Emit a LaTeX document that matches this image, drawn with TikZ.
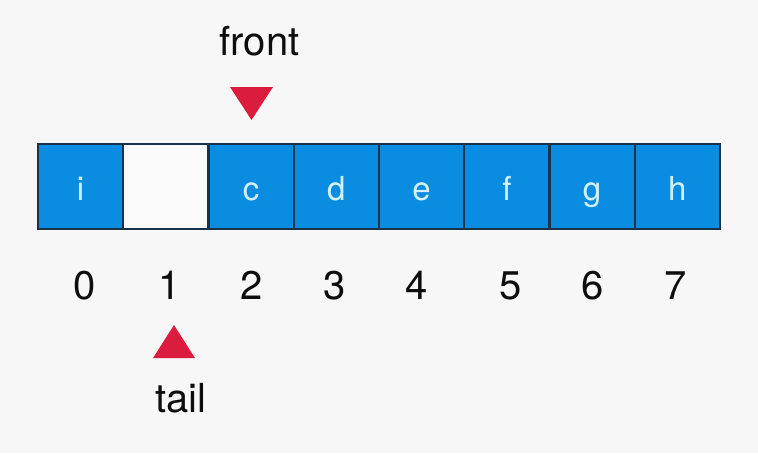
\documentclass[tikz,border=0pt]{standalone}
\usepackage{fontspec}
\setmainfont{TeX Gyre Heros}
\definecolor{bg}{HTML}{F7F7F7}
\definecolor{cellblue}{HTML}{0A8DE0}
\definecolor{cellline}{HTML}{17324A}
\definecolor{lettercol}{HTML}{D2F0FF}
\definecolor{ptrred}{HTML}{DC1C3E}
\definecolor{emptycol}{HTML}{F9F9F9}
\tikzset{
  cell/.style={fill=cellblue, minimum width=85.25pt, minimum height=85pt,
    inner sep=0pt, text height=27pt, text depth=0pt, text=lettercol, font=\fontsize{33}{40}\selectfont},
  emptycell/.style={cell, fill=emptycol},
  cellborder/.style={draw=cellline, line width=1.8pt},
  idx/.style={anchor=base, inner sep=0pt, font=\fontsize{40}{48}\selectfont, text=black!95},
  ptrlabel/.style={anchor=base, inner sep=0pt, font=\fontsize{40}{48}\selectfont, text=black!95},
  ptr/.style={fill=ptrred, draw=none}
}
\begin{document}
\begin{tikzpicture}[x=1pt,y=-1pt]
\useasboundingbox (0,0) rectangle (758,453);
\fill[bg] (0,0) rectangle (758,453);
% cells
\node[cell] (c0) at (80.6,186.5) {i};
\node[emptycell] (c1) at (165.9,186.5) {};
\node[cell] (c2) at (251.1,186.5) {c};
\node[cell] (c3) at (336.4,186.5) {d};
\node[cell] (c4) at (421.6,186.5) {e};
\node[cell] (c5) at (506.9,186.5) {f};
\node[cell] (c6) at (592.1,186.5) {g};
\node[cell] (c7) at (677.4,186.5) {h};
\foreach \c in {c0,c1,c2,c3,c4,c5,c6,c7}
  \draw[cellborder] (\c.north west) rectangle (\c.south east);
% indices
\node[idx] (d0) at (85,299) {0};
\node[idx] (d1) at (170,299) {1};
\node[idx] (d2) at (252,299) {2};
\node[idx] (d3) at (335,299) {3};
\node[idx] (d4) at (417,299) {4};
\node[idx] (d5) at (511,299) {5};
\node[idx] (d6) at (593,299) {6};
\node[idx] (d7) at (676,299) {7};
% pointers
\node[ptrlabel] (front) at (259.5,55) {front};
\fill[ptr] (230,87) -- (273,87) -- (251.5,120) -- cycle;
\fill[ptr] (153,358) -- (195,358) -- (174,325) -- cycle;
\node[ptrlabel] (tail) at (181,412) {tail};
\end{tikzpicture}
\end{document}
